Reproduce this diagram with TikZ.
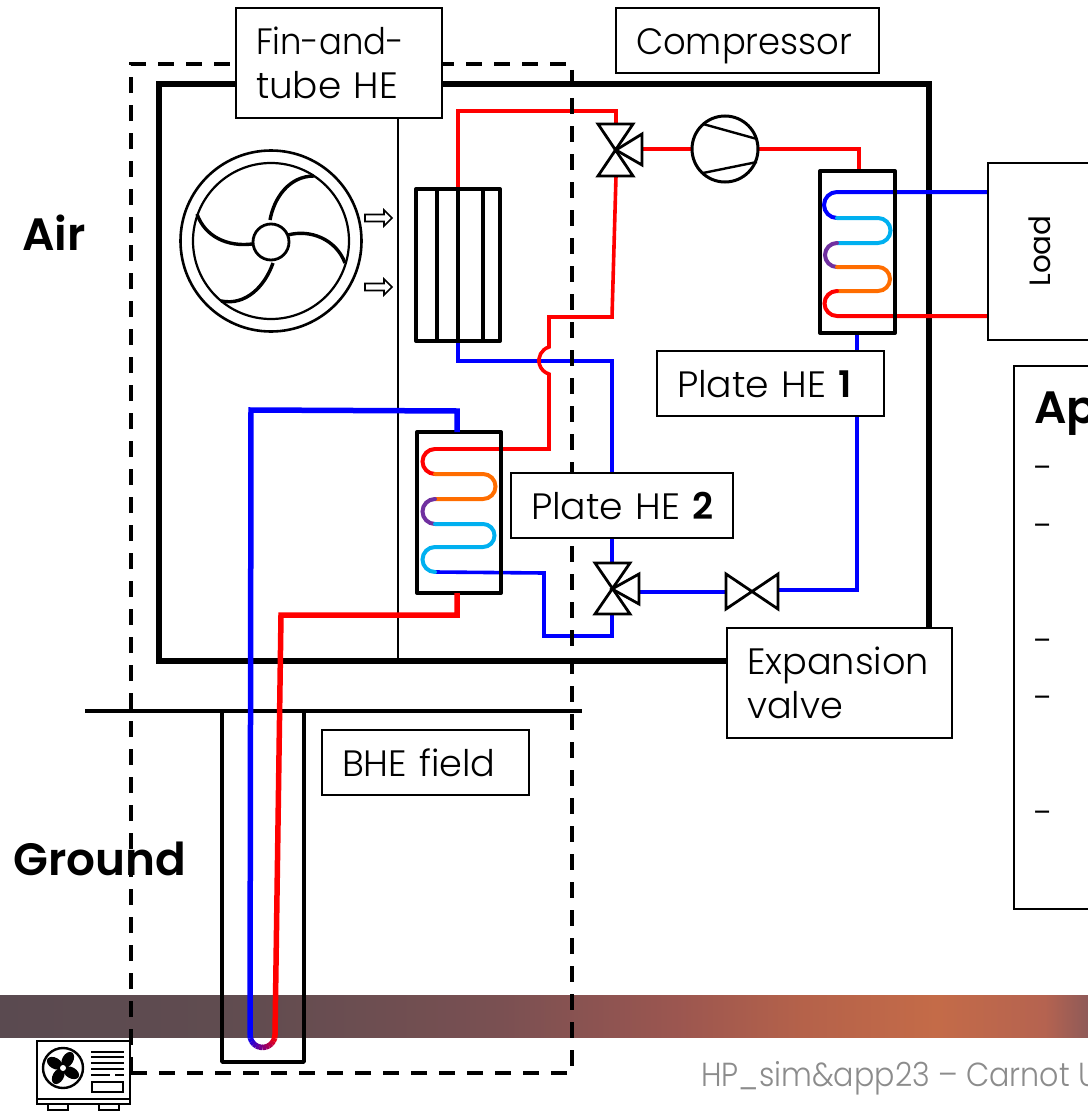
\documentclass[tikz,border=0pt]{standalone}
\usepackage{fontspec}
\setmainfont{Poppins}[UprightFont={* Light},BoldFont={* SemiBold}]
\newfontfamily\regfont{Poppins}
\definecolor{bandA}{HTML}{5A4A50}
\definecolor{bandB}{HTML}{614C50}
\definecolor{bandC}{HTML}{7A5052}
\definecolor{bandD}{HTML}{9B5650}
\definecolor{bandE}{HTML}{B5624A}
\definecolor{bandF}{HTML}{C46B48}
\definecolor{bandG}{HTML}{B56350}
\definecolor{bandH}{HTML}{8F5A58}
\definecolor{pblue}{HTML}{0000FF}
\definecolor{pred}{HTML}{FF0000}
\definecolor{porange}{HTML}{FF6D00}
\definecolor{plight}{HTML}{00B0F0}
\definecolor{ppurple}{HTML}{7030A0}
\definecolor{foot}{HTML}{8C8C8C}
\pgfdeclarehorizontalshading{bandshade}{100bp}{
 color(0bp)=(bandA); color(25bp)=(bandA); color(36.5bp)=(bandB); color(48bp)=(bandC); color(56bp)=(bandD); color(62bp)=(bandE); color(68bp)=(bandF); color(73bp)=(bandG); color(75bp)=(bandH); color(100bp)=(bandH)}
\newcommand{\hs}[2]{\scalebox{#1}[1]{#2}}
\tikzset{
 lw/.style={line width=#1*0.75pt},
 pipe/.style={lw=3.6,line join=miter},
 thick pipe/.style={lw=5.5,line join=miter},
 rpipe/.style={pipe,draw=pred},
 bpipe/.style={pipe,draw=pblue},
 coil/.style={lw=4,line cap=round},
 lbl/.style={draw=black,lw=1.6,fill=white,font=\fontsize{27.5}{33}\selectfont,align=left,inner ysep=0pt,inner xsep=15pt,outer sep=0pt},
 lbl one/.style={lbl,text depth=0pt},
 hx/.style={draw=black,lw=4,line join=round},
 sym/.style={draw=black,lw=2.8,line join=miter},
 head/.style={font=\bfseries\fontsize{34}{41}\selectfont,inner sep=0pt,anchor=base west},
}
\begin{document}
\begin{tikzpicture}[x=0.75pt,y=-0.75pt]
\useasboundingbox (0,0) rectangle (1088,1113);
\clip (0,0) rectangle (1088,1113);
% band and footer
\node[inner sep=0pt,outer sep=0pt,minimum width=816pt,minimum height=31.5pt,shading=bandshade,anchor=north west] (band) at (0,995) {};
\node[inner sep=0pt,anchor=base west,text=foot,font=\fontsize{25}{30}\selectfont] (footer) at (701,1086) {\hs{0.905}{HP\_sim\&app23 – Carnot U}};
% enclosure
\draw[lw=5.5,line join=miter] (159,84) rectangle (929,661);
\draw[lw=2] (398,84) -- (398,661);
% fan
\coordinate (fan) at (271,241);
\draw[lw=2.6] (fan) circle[radius=90.5];
\draw[lw=2.2] (fan) circle[radius=78];
\draw[lw=2.8] (271,242) circle[radius=18];
\draw[lw=3.4] (270,220) .. controls (274,198) and (289,176) .. (314,176);
\draw[lw=3.4] (288,235) .. controls (310,229) and (336,239) .. (345,263);
\draw[lw=3.4] (273,263) .. controls (265,286) and (246,306) .. (221,301);
\draw[lw=3.4] (252,244) .. controls (228,247) and (205,237) .. (197,214);
% air arrows
\foreach \ay in {218,287}{
 \draw[lw=1.6,fill=white,line join=miter] (365,\ay-3.5) -- (384,\ay-3.5) -- (384,\ay-8) -- (392,\ay) -- (384,\ay+8) -- (384,\ay+3.5) -- (365,\ay+3.5) -- cycle;
}
% pipes: coordinates
\coordinate (finT) at (458,189);
\coordinate (finB) at (458,341);
\coordinate (vaT) at (616,124);
\coordinate (vaB) at (616,176);
\coordinate (vaR) at (642,149);
\coordinate (compL) at (692,149);
\coordinate (compR) at (758,149);
\coordinate (heaT) at (859,171);
\coordinate (heaB) at (857,333);
\coordinate (vbT) at (612,563);
\coordinate (vbB) at (612,614);
\coordinate (vbR) at (639,592);
\coordinate (exL) at (726,592);
\coordinate (exR) at (778,590);
\coordinate (hebT) at (457,432);
\coordinate (hebB) at (457,593);
\draw[rpipe] (finT) -- (458,111) -- (616,111) -- (vaT);
\draw[bpipe] (finB) -- (458,361) -- (612,361) -- (vbT);
\draw[rpipe] (vaR) -- (compL);
\draw[rpipe] (compR) -- (859,149) -- (heaT);
\draw[bpipe] (heaB) -- (857,590) -- (exR);
\draw[bpipe] (vbR) -- (exL);
\draw[rpipe] (vaB) -- (612,317) -- (549,317) -- (549,347) arc[start angle=253.5,end angle=106.5,radius=14.1] -- (549,449) -- (435,449);
\draw[bpipe] (435,572) -- (544,573) -- (544,636) -- (612,636) -- (vbB);
% plate HE 1 coil
\draw[coil,pblue] (988,192) -- (837,192) arc[start angle=270,end angle=90,radius=13];
\draw[coil,plight] (837,218) -- (878,218) arc[start angle=-90,end angle=90,radius=12.5] -- (837,243);
\draw[coil,ppurple] (837,243) arc[start angle=270,end angle=90,radius=12];
\draw[coil,porange] (837,267) -- (878,267) arc[start angle=-90,end angle=90,radius=12] -- (837,291);
\draw[coil,pred] (837,291) arc[start angle=270,end angle=90,radius=12.5] -- (988,316);
% plate HE 2 coil
\draw[coil,pred] (435,449) arc[start angle=270,end angle=90,radius=12.5];
\draw[coil,porange] (435,474) -- (483,474) arc[start angle=-90,end angle=90,radius=12.5] -- (435,499);
\draw[coil,ppurple] (435,499) arc[start angle=270,end angle=90,radius=12.5];
\draw[coil,plight] (435,524) -- (483,524) arc[start angle=-90,end angle=90,radius=11.5] -- (435,547) arc[start angle=270,end angle=90,radius=12.5];
% exchangers
\draw[hx] (820,171) rectangle (895,333);
\draw[hx] (417,432) rectangle (501,593);
\draw[hx] (416,189) rectangle (500,341);
\foreach \vx in {437,458,483}{\draw[lw=3.6] (\vx,189) -- (\vx,341);}
% valves
\draw[sym] (598,124) -- (633,124) -- (598,176) -- (633,176) -- cycle;
\draw[sym] (616,150) -- (642,134) -- (642,165) -- cycle;
\draw[sym] (595,563) -- (630,563) -- (595,614) -- (630,614) -- cycle;
\draw[sym] (612,589) -- (639,574) -- (639,604) -- cycle;
\draw[sym] (726,574) -- (778,609) -- (778,574) -- (726,609) -- cycle;
% compressor
\draw[lw=3] (725,149) circle[radius=33];
\draw[lw=2.4] (703,124) -- (757,139);
\draw[lw=2.4] (703,173) -- (757,162);
% BHE
\draw[lw=3.6,line join=round] (222,711) -- (222,1062) -- (304,1062) -- (304,711);
\draw[lw=3.2] (85,711) -- (582,711);
% dashed boundary
\draw[lw=3.6,dash pattern=on 12pt off 9pt] (131,1073) -- (131,64) -- (572,64) -- (572,1073) -- cycle;
% source loop
\draw[thick pipe,draw=pblue] (hebT) -- (457,411) -- (251,410) -- (250,1035);
\draw[thick pipe,draw=pred] (hebB) -- (457,615) -- (281,615) -- (275,1035);
\foreach \i in {0,...,11}{
 \pgfmathsetmacro{\mx}{100*\i/11}
 \pgfmathsetmacro{\sa}{180-\i*15}
 \colorlet{seg}{pred!\mx!pblue}
 \draw[lw=5.5,seg] (262.5,1035) ++(\sa:12.5) arc[start angle=\sa,end angle=\sa-16,radius=12.5];
}
% outdoor unit icon
\draw[lw=2.4,fill=white] (37,1041) rectangle (130,1104);
\draw[lw=2] (37,1099) -- (130,1099);
\draw[lw=2] (48,1104) rectangle (68,1110);
\draw[lw=2] (99,1104) rectangle (119,1110);
\draw[lw=2.4] (63,1068) circle[radius=20];
\foreach \ang in {30,120,210,300}{
 \fill (63,1068) ++(\ang:9.5) ellipse[x radius=8.5,y radius=5.5,rotate=-\ang];
}
\fill[white] (63,1068) circle[radius=3];
\foreach \ly in {1052,1057,1063,1069}{\draw[lw=2] (91,\ly) -- (124,\ly);}
\draw[lw=2] (91,1075) -- (110,1075) (115,1075) -- (124,1075);
\draw[lw=2.2] (92,1082) rectangle (123,1092);
% load
\node[draw=black,lw=2.4,fill=white,outer sep=0pt,minimum width=200*0.75pt,minimum height=177*0.75pt,anchor=north west,inner sep=0pt] (load) at (988,163) {};
\node[rotate=90,font=\regfont\fontsize{22}{26}\selectfont,inner sep=0pt] (loadtxt) at (1040,251) {Load};
% applications box
\node[draw=black,lw=1.8,fill=white,outer sep=0pt,minimum width=200*0.75pt,minimum height=543*0.75pt,anchor=north west,inner sep=0pt] (apbox) at (1014,366) {};
\node[head] (aptxt) at (1034,423) {Ap};
\foreach \dy/\dn in {480/a,538/b,653/c,710/d,825/e}{
 \node[inner sep=0pt,anchor=base west,font=\fontsize{27}{32}\selectfont] (dash\dn) at (1034,\dy) {-};
}
% labels
\node[lbl,text width=166*0.75pt,minimum height=110*0.75pt] (lfin) at (339,63) {\hs{0.924}{Fin-and-}\\\hs{1.02}{tube HE}};
\node[lbl one,text width=223*0.75pt,minimum height=65*0.75pt] (lcomp) at (747.5,40.5) {\raisebox{-1.2pt}{\hs{0.964}{Compressor}}};
\node[lbl one,text width=187*0.75pt,minimum height=65*0.75pt] (lhe1) at (770.5,383.5) {\mbox{\hs{1.03}{Plate HE} \textbf{1}}};
\node[lbl one,text width=182*0.75pt,minimum height=65*0.75pt] (lhe2) at (622,505.5) {\mbox{\hs{1.03}{Plate HE} \textbf{2}}};
\node[lbl,text width=185*0.75pt,minimum height=110*0.75pt] (lexp) at (839.5,683) {Expansion\\valve};
\node[lbl one,text width=167*0.75pt,minimum height=65*0.75pt] (lbhe) at (425.5,762.5) {BHE field};
% regions
\node[head] (air) at (22,250) {Air};
\node[head] (ground) at (13,875) {Ground};
\end{tikzpicture}
\end{document}
